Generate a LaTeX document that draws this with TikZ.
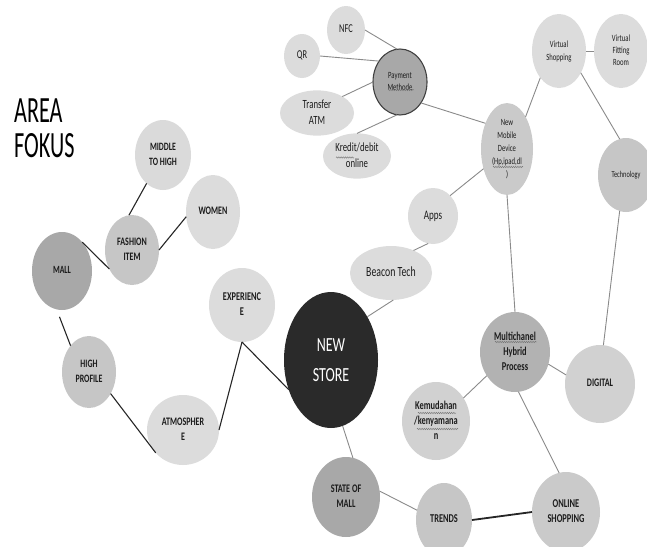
\documentclass[tikz,border=0pt]{standalone}
\usepackage{fontspec}
\setmainfont{Carlito}
\usetikzlibrary{shapes.geometric,decorations.pathmorphing}
\newcommand\lbr[3]{\scalebox{0.7}[1]{\fontsize{#1}{#2}\selectfont\begin{tabular}{@{}c@{}}#3\end{tabular}}}
\newcommand\lbb[3]{\scalebox{0.7}[1]{\fontsize{#1}{#2}\selectfont\bfseries\begin{tabular}{@{}c@{}}#3\end{tabular}}}
\definecolor{cL}{HTML}{DCDCDC}
\definecolor{cM}{HTML}{C6C6C6}
\definecolor{cD}{HTML}{A8A8A8}
\definecolor{cB}{HTML}{B2B2B2}
\definecolor{cS}{HTML}{2A2A2A}
\definecolor{lnG}{HTML}{8A8A8A}
\definecolor{lnK}{HTML}{262626}
\definecolor{txt}{HTML}{1C1C1C}
\begin{document}
\begin{tikzpicture}[x=1pt,y=-1pt,
  bub/.style={ellipse,inner sep=0pt,outer sep=0pt,text=txt},
  sz/.style 2 args={minimum width=#1pt,minimum height=#2pt},
  gl/.style={draw=lnG,line width=0.9pt},
  kl/.style={draw=lnK,line width=1.1pt},
  sq/.style={draw=black!55,line width=0.4pt,decorate,decoration={snake,amplitude=0.7pt,segment length=2.2pt}}]
\useasboundingbox (0,0) rectangle (647,546);

% title
\node[anchor=base west,inner sep=0pt,text=black] (area) at (14,122) {\scalebox{0.6}[1]{\fontsize{37}{37}\selectfont AREA}};
\node[anchor=base west,inner sep=0pt,text=black] (fokus) at (14,157) {\scalebox{0.6}[1]{\fontsize{37}{37}\selectfont FOKUS}};

% payment cluster
\node[bub,fill=cL,sz={38}{48}] (nfc) at (346,30) {\lbr{12}{14}{NFC}};
\node[bub,fill=cL,sz={36}{44}] (qr) at (302,56) {\lbr{12}{14}{QR}};
\node[bub,fill=cD,draw=black!75,line width=1.1pt,sz={54}{66}] (pay) at (400,82) {\lbr{9.5}{12}{Payment\\Methode}};
\node[bub,fill=cL,sz={74}{40}] (ta) at (317,113) {\lbr{12.5}{16}{Transfer\\ATM}};
\node[bub,fill=cL,sz={68}{42}] (kredit) at (357,156) {\lbr{12.5}{16}{Kredit/debit\\online}};

% top right
\node[bub,fill=cL,sz={54}{74}] (vs) at (559,51) {\lbr{9.5}{13}{Virtual\\Shopping}};
\node[bub,fill=cL,sz={54}{74}] (vfr) at (621,51) {\lbr{9.5}{12}{Virtual\\Fitting\\Room}};
\node[bub,fill=cM!80!cL,sz={52}{76}] (nmd) at (507,149) {\lbr{9.5}{13}{New\\Mobile\\Device\\(Hp,ipad,dl\\)}};
\node[bub,fill=cM,sz={56}{74}] (tech) at (626,175) {\lbr{9}{12}{Technology}};
\node[bub,fill=cL,sz={50}{56}] (apps) at (433,216) {\lbr{13}{15}{Apps}};
\node[bub,fill=cL,sz={82}{54}] (beacon) at (391,273) {\lbr{14}{16}{Beacon Tech}};

% center
\node[bub,fill=cS,text=white,sz={94}{136}] (ns) at (331,360) {\lbr{20}{30}{NEW\\STORE}};

% lower right
\node[bub,fill=cB,sz={70}{80}] (multi) at (515,352) {\lbb{12}{15}{Multichanel\\Hybrid\\Process}};
\node[bub,fill=cL!95!black,sz={70}{78}] (digital) at (600,384) {\lbb{11.5}{14}{DIGITAL}};
\node[bub,fill=cL!95!black,sz={68}{78}] (kemu) at (436,421) {\lbb{12}{15}{Kemudahan\\/kenyamana\\n}};
\node[bub,fill=cL!92!black,sz={68}{80}] (online) at (566,512) {\lbb{12}{15}{ONLINE\\SHOPPING}};
\node[bub,fill=cM,sz={56}{74}] (trends) at (444,520) {\lbb{12}{14}{TRENDS}};
\node[bub,fill=cD,sz={68}{80}] (state) at (346,497) {\lbb{11.6}{15}{STATE OF\\MALL}};

% left
\node[bub,fill=cL!105,sz={56}{70}] (middle) at (163,155) {\lbb{11.2}{15}{MIDDLE\\TO HIGH}};
\node[bub,fill=cL,sz={54}{74}] (women) at (213,212) {\lbb{11.5}{14}{WOMEN}};
\node[bub,fill=cM,sz={54}{70}] (fashion) at (132,250) {\lbb{11.4}{15}{FASHION\\ITEM}};
\node[bub,fill=cD,sz={60}{78}] (mall) at (62,271) {\lbb{11}{14}{MALL}};
\node[bub,fill=cL,sz={66}{74}] (exp) at (242,305) {\lbb{11.9}{15}{EXPERIENC\\E}};
\node[bub,fill=cM,sz={54}{72}] (hp) at (89,372) {\lbb{11.3}{15}{HIGH\\PROFILE}};
\node[bub,fill=cL,sz={72}{70}] (atm) at (183,430) {\lbb{11.5}{15}{ATMOSPHER\\E}};

% connectors - right (gray)
\draw[gl] (nfc.0) -- (pay.95);
\draw[gl] (qr.0) -- (pay.135);
\draw[gl] (ta.33) -- (pay.180);
\draw[gl] (kredit.90) -- (pay.-95);
\draw[gl] (pay.-45) -- (nmd.130);
\draw[gl] (nmd.60) -- (vs.235);
\draw[gl] (vs.0) -- (vfr.180);
\draw[gl] (vs.-45) -- (tech.100);
\draw[gl] (tech.-100) -- (digital.85);
\draw[gl] (apps.50) -- (nmd.220);
\draw[gl] (beacon.45) -- (apps.-100);
\draw[gl] (ns.50) -- (beacon.-85);
\draw[gl] (nmd.-90) -- (multi.90);
\draw[gl] (multi.-20) -- (digital.165);
\draw[gl] (kemu.40) -- (multi.220);
\draw[gl] (multi.-85) -- (online.100);
\draw[draw=lnK,line width=1.8pt] (online.180) -- (trends.0);
\draw[gl] (state.10) -- (trends.160);
\draw[gl] (ns.-80) -- (state.80);

% connectors - left (dark)
\draw[kl] (fashion.95) -- (middle.240);
\draw[kl] (fashion.0) -- (women.190);
\draw[kl] (mall.55) -- (fashion.220);
\draw[kl,shorten <=8pt] (mall.262) -- (hp.125);
\draw[kl] (hp.-45) -- (atm.220);
\draw[kl] (atm.0) -- (exp.-90);
\draw[kl] (exp.-90) -- (ns.215);

% spell-check squiggles
\draw[sq] (388,90) -- (414,90);
\draw[sq] (336,157.5) -- (354,157.5);
\draw[sq] (493,167) -- (523,167);
\draw[sq] (495,342) -- (537,342);
\draw[sq] (418,413) -- (456,413);
\draw[sq] (417,429) -- (458,429);
\end{tikzpicture}
\end{document}
